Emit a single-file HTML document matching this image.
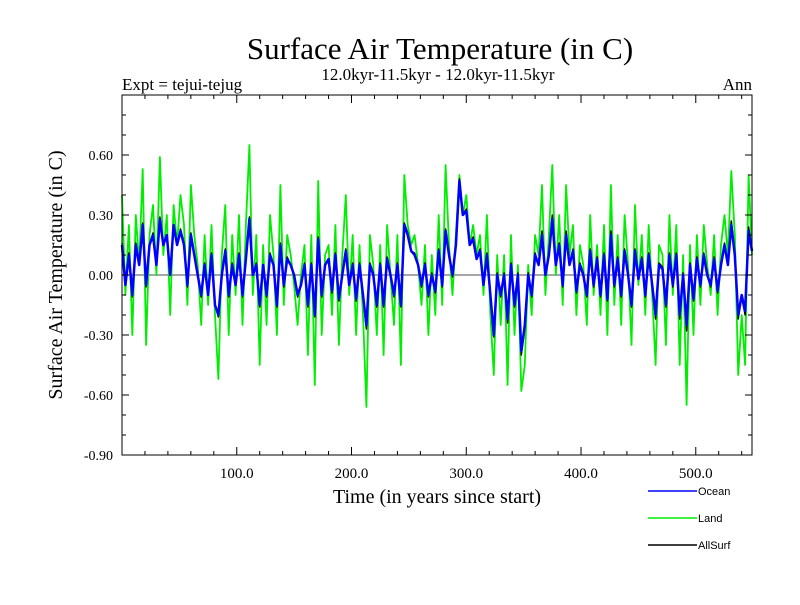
<!DOCTYPE html>
<html><head><meta charset="utf-8"><style>
body{margin:0;background:#fff;width:800px;height:600px;overflow:hidden}
svg text{font-family:"Liberation Serif",serif}
</style></head><body>
<svg id="chart" width="800" height="600" xmlns="http://www.w3.org/2000/svg">
<text x="440" y="59" font-size="31" text-anchor="middle">Surface Air Temperature (in C)</text>
<text x="438" y="80" font-size="17" text-anchor="middle">12.0kyr-11.5kyr - 12.0kyr-11.5kyr</text>
<text x="122" y="90" font-size="17">Expt = tejui-tejug</text>
<text x="752" y="90" font-size="17" text-anchor="end">Ann</text>
<text x="0" y="0" font-size="20" text-anchor="middle" transform="translate(62,275) rotate(-90)">Surface Air Temperature (in C)</text>
<text x="437" y="503" font-size="20" text-anchor="middle">Time (in years since start)</text>
<g id="plot"></g>
<g font-size="11">
<line x1="648" y1="491" x2="697" y2="491" stroke="#0000ff" stroke-width="1.5"/>
<text x="698" y="495" style="font-family:'Liberation Sans',sans-serif">Ocean</text>
<line x1="648" y1="518" x2="697" y2="518" stroke="#00ee00" stroke-width="1.5"/>
<text x="698" y="522" style="font-family:'Liberation Sans',sans-serif">Land</text>
<line x1="648" y1="545" x2="697" y2="545" stroke="#000" stroke-width="1.5"/>
<text x="698" y="549" style="font-family:'Liberation Sans',sans-serif">AllSurf</text>
</g>
</svg>
<script>
const yearStep = 3;
const land = [0.40,-0.10,0.25,-0.30,0.30,0.05,0.53,-0.35,0.20,0.35,0.00,
0.59,0.10,0.30,-0.20,0.35,0.15,0.40,0.25,-0.15,0.45,0.20,
0.05,-0.25,0.20,-0.15,0.25,-0.20,-0.52,0.10,0.35,-0.30,0.20,
-0.10,0.30,-0.25,0.25,0.65,-0.10,0.20,-0.45,0.15,-0.25,0.30,
0.10,-0.30,0.45,-0.15,0.20,0.10,-0.05,-0.25,0.00,0.15,-0.40,
0.20,-0.55,0.47,-0.30,0.10,0.15,-0.20,0.25,-0.35,0.10,0.40,
-0.10,0.20,-0.30,0.15,-0.20,-0.66,0.20,0.05,-0.30,0.15,-0.40,
0.25,0.00,-0.25,0.20,-0.45,0.50,0.25,0.15,0.20,0.05,-0.15,
0.15,-0.30,0.10,-0.20,0.30,-0.15,0.55,0.15,-0.10,0.20,0.50,
0.30,0.40,0.15,0.25,0.10,0.20,-0.10,0.30,-0.20,-0.50,0.10,
-0.25,0.10,-0.55,0.20,-0.30,0.05,-0.58,-0.45,0.05,-0.20,0.20,
0.10,0.45,-0.10,0.20,0.55,0.00,0.30,-0.15,0.45,0.10,0.25,
-0.20,0.15,0.05,-0.25,0.30,-0.10,0.15,-0.20,0.25,-0.30,0.45,
-0.15,0.20,-0.25,0.30,0.05,-0.35,0.35,-0.05,0.20,-0.20,0.25,
-0.10,-0.45,0.15,0.10,-0.35,0.30,-0.10,0.25,-0.45,0.10,-0.65,
0.15,-0.30,0.20,-0.15,0.25,0.05,-0.10,0.20,-0.20,0.15,0.30,
0.10,0.52,0.20,-0.50,-0.20,-0.45,0.50,0.10];
const ocean = [0.15,-0.05,0.10,-0.10,0.15,0.05,0.25,-0.05,0.15,0.20,0.05,
0.28,0.15,0.20,0.00,0.25,0.15,0.22,0.15,-0.05,0.20,0.10,
0.00,-0.10,0.05,-0.10,0.10,-0.15,-0.20,0.00,0.12,-0.10,0.05,
-0.05,0.10,-0.10,0.08,0.28,0.00,0.05,-0.15,0.05,-0.10,0.10,
0.05,-0.15,0.15,-0.05,0.08,0.05,0.00,-0.10,-0.05,0.05,-0.15,
0.05,-0.20,0.18,-0.10,0.05,0.08,-0.08,0.10,-0.12,0.00,0.12,
-0.05,0.05,-0.12,0.05,-0.10,-0.25,0.05,0.00,-0.15,0.05,-0.15,
0.08,0.00,-0.10,0.05,-0.15,0.25,0.20,0.12,0.10,0.05,-0.05,
0.05,-0.10,0.00,-0.08,0.12,-0.05,0.22,0.10,0.00,0.15,0.47,
0.30,0.32,0.15,0.18,0.08,0.12,-0.05,0.10,-0.10,-0.30,0.00,
-0.10,0.00,-0.22,0.05,-0.15,0.00,-0.38,-0.25,0.00,-0.10,0.10,
0.05,0.20,0.00,0.10,0.28,0.05,0.15,-0.05,0.20,0.05,0.12,
-0.08,0.05,0.00,-0.10,0.12,-0.05,0.08,-0.10,0.10,-0.12,0.20,
-0.05,0.08,-0.10,0.12,0.00,-0.15,0.12,-0.02,0.08,-0.10,0.10,
-0.05,-0.20,0.05,0.03,-0.15,0.10,-0.05,0.10,-0.20,0.00,-0.25,
0.05,-0.12,0.08,-0.05,0.10,0.00,-0.05,0.08,-0.08,0.05,0.15,
0.05,0.25,0.10,-0.20,-0.10,-0.18,0.22,0.12];
const allSurf = [0.16,-0.05,0.11,-0.11,0.16,0.05,0.26,-0.06,0.15,0.21,0.05,
0.29,0.15,0.20,0.00,0.25,0.15,0.23,0.16,-0.06,0.21,0.11,
0.00,-0.11,0.06,-0.10,0.11,-0.15,-0.21,0.01,0.13,-0.11,0.06,
-0.05,0.11,-0.11,0.09,0.29,0.00,0.06,-0.16,0.05,-0.11,0.11,
0.05,-0.16,0.16,-0.06,0.09,0.05,0.00,-0.11,-0.05,0.06,-0.16,
0.06,-0.21,0.19,-0.11,0.05,0.08,-0.09,0.11,-0.13,0.01,0.13,
-0.05,0.06,-0.13,0.06,-0.11,-0.27,0.06,0.01,-0.16,0.06,-0.16,
0.09,0.00,-0.11,0.06,-0.16,0.26,0.21,0.12,0.11,0.05,-0.06,
0.06,-0.11,0.01,-0.09,0.13,-0.06,0.23,0.11,-0.01,0.15,0.48,
0.30,0.33,0.15,0.19,0.08,0.13,-0.05,0.11,-0.11,-0.31,0.01,
-0.11,0.01,-0.24,0.06,-0.16,0.01,-0.40,-0.27,0.01,-0.11,0.11,
0.05,0.22,0.00,0.11,0.30,0.05,0.16,-0.06,0.22,0.05,0.13,
-0.09,0.06,0.01,-0.11,0.13,-0.06,0.09,-0.11,0.11,-0.13,0.22,
-0.06,0.09,-0.11,0.13,0.01,-0.16,0.13,-0.02,0.09,-0.11,0.11,
-0.06,-0.22,0.06,0.04,-0.16,0.11,-0.06,0.11,-0.22,0.01,-0.28,
0.06,-0.13,0.09,-0.06,0.11,0.01,-0.06,0.09,-0.09,0.06,0.16,
0.05,0.27,0.11,-0.22,-0.11,-0.20,0.24,0.12];
const yTicks = [-0.90,-0.60,-0.30,0.00,0.30,0.60];
const yTickLabels = ["-0.90","-0.60","-0.30","0.00","0.30","0.60"];
const xTicks = [100,200,300,400,500];
const xTickLabels = ["100.0","200.0","300.0","400.0","500.0"];

const L=122,R=752,T=95,B=455,X0=0,X1=549,Y0=-0.9,Y1=0.9;
const xs=v=>L+(v-X0)/(X1-X0)*(R-L);
const ys=v=>B-(v-Y0)/(Y1-Y0)*(B-T);
const NS="http://www.w3.org/2000/svg";
const plot=document.getElementById('plot');
function mk(tag,attrs){const e=document.createElementNS(NS,tag);for(const k in attrs)e.setAttribute(k,attrs[k]);plot.appendChild(e);return e;}

const z=mk('line',{x1:L,x2:R,y1:ys(0),y2:ys(0),stroke:'#888','stroke-width':1.5});



function series(arr,color,w,name){
  const pts=arr.map((v,i)=>xs(i*yearStep).toFixed(1)+','+ys(v).toFixed(1)).join(' ');
  const p=mk('polyline',{points:pts,fill:'none',stroke:color,'stroke-width':w,'stroke-linejoin':'round'});
  
  
}
series(land,'#00ee00',1.8,'land-series');
series(allSurf,'#000000',1.5,'allsurf-series');
series(ocean,'#0000ff',2.5,'ocean-series');

const f=mk('rect',{x:L,y:T,width:R-L,height:B-T,fill:'none',stroke:'#000','stroke-width':1});



for(let k=-9;k<=9;k++){
  const v=k/10, y=ys(v), major=(k%3===0);
  const len=major?7:4;
  mk('line',{x1:L,x2:L+len,y1:y,y2:y,stroke:'#000','stroke-width':1});
  mk('line',{x1:R,x2:R-len,y1:y,y2:y,stroke:'#000','stroke-width':1});
}
yTicks.forEach((v,i)=>{
  const t=mk('text',{x:113,y:ys(v)+5,'font-size':14,'text-anchor':'end'});
  t.textContent=yTickLabels[i];
  
  
});
for(let v=20;v<X1;v+=20){
  const x=xs(v), major=(v%100===0), len=major?8:4;
  mk('line',{x1:x,x2:x,y1:B,y2:B-len,stroke:'#000','stroke-width':1});
  mk('line',{x1:x,x2:x,y1:T,y2:T+len,stroke:'#000','stroke-width':1});
}
xTicks.forEach((v,i)=>{
  const t=mk('text',{x:xs(v),y:478,'font-size':15,'text-anchor':'middle'});
  t.textContent=xTickLabels[i];
  
  
});
</script>
</body></html>
